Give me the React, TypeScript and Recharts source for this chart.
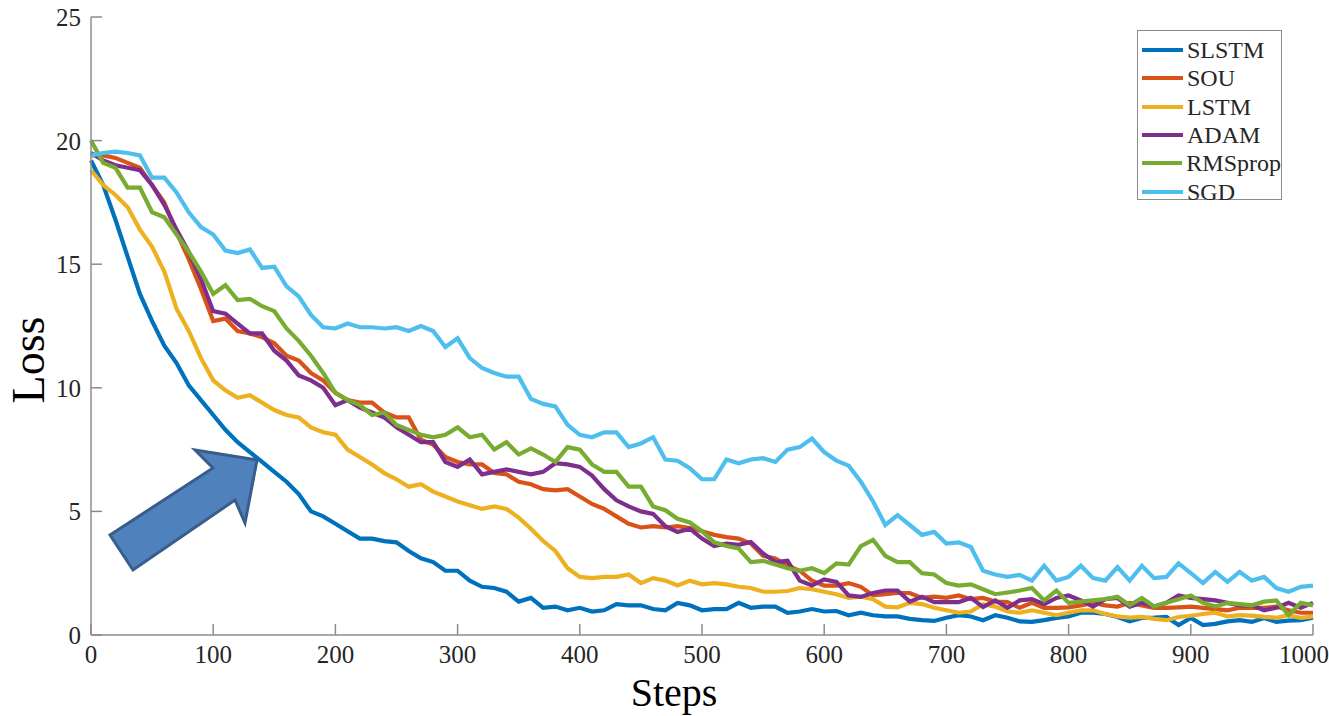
import { LineChart, Line, XAxis, YAxis } from 'recharts';

const steps = Array.from({ length: 101 }, (_, i) => i * 10);
const xTicks = [0, 100, 200, 300, 400, 500, 600, 700, 800, 900, 1000];
const yTicks = [0, 5, 10, 15, 20, 25];

const slstm = [19.2, 18.2, 16.8, 15.3, 13.8, 12.7, 11.7, 11.0, 10.1, 9.5,
  8.9, 8.3, 7.8, 7.4, 7.0, 6.6, 6.2, 5.7, 5.0, 4.8,
  4.5, 4.2, 3.9, 3.9, 3.8, 3.75, 3.4, 3.1, 2.95, 2.6,
  2.6, 2.2, 1.95, 1.9, 1.75, 1.35, 1.5, 1.1, 1.15, 1.0,
  1.1, 0.95, 1.0, 1.25, 1.2, 1.2, 1.05, 1.0, 1.3, 1.2,
  1.0, 1.05, 1.05, 1.3, 1.1, 1.15, 1.15, 0.9, 0.95, 1.05,
  0.95, 0.97, 0.8, 0.9, 0.8, 0.75, 0.75, 0.65, 0.6, 0.57,
  0.7, 0.8, 0.75, 0.6, 0.8, 0.7, 0.55, 0.53, 0.6, 0.69,
  0.75, 0.9, 0.9, 0.85, 0.73, 0.55, 0.69, 0.7, 0.73, 0.4,
  0.69, 0.4, 0.45, 0.55, 0.6, 0.53, 0.69, 0.53, 0.58, 0.6,
  0.7];

const sou = [19.4, 19.4, 19.3, 19.1, 18.9, 18.2, 17.5, 16.3, 15.2, 14.0,
  12.7, 12.8, 12.3, 12.2, 12.05, 11.8, 11.3, 11.1, 10.6, 10.3,
  9.8, 9.5, 9.4, 9.4, 9.0, 8.8, 8.8, 7.9, 7.7, 7.2,
  7.0, 6.9, 6.9, 6.55, 6.5, 6.2, 6.1, 5.9, 5.85, 5.9,
  5.6, 5.3, 5.1, 4.8, 4.5, 4.35, 4.4, 4.35, 4.4, 4.33,
  4.2, 4.05, 3.96, 3.9, 3.7, 3.2, 3.1, 2.8, 2.6, 2.2,
  2.0, 2.0, 2.1, 1.95, 1.6, 1.65, 1.7, 1.7, 1.5, 1.55,
  1.5, 1.6, 1.45, 1.5, 1.35, 1.33, 1.1, 1.3, 1.1, 1.1,
  1.12, 1.2, 1.3, 1.2, 1.15, 1.3, 1.2, 1.1, 1.1, 1.12,
  1.15, 1.1, 1.05, 1.0, 1.1, 1.1, 1.1, 1.15, 1.0, 0.9,
  0.9];

const lstm = [18.8, 18.2, 17.8, 17.3, 16.4, 15.7, 14.7, 13.2, 12.3, 11.2,
  10.3, 9.9, 9.6, 9.7, 9.4, 9.1, 8.9, 8.8, 8.4, 8.2,
  8.1, 7.5, 7.2, 6.9, 6.55, 6.3, 6.0, 6.1, 5.8, 5.6,
  5.4, 5.25, 5.1, 5.2, 5.1, 4.75, 4.3, 3.8, 3.4, 2.7,
  2.35, 2.3, 2.35, 2.35, 2.45, 2.1, 2.3, 2.2, 2.0, 2.2,
  2.05, 2.1, 2.05, 1.95, 1.9, 1.75, 1.75, 1.78, 1.9, 1.85,
  1.75, 1.65, 1.5, 1.55, 1.45, 1.15, 1.12, 1.3, 1.25, 1.1,
  1.0, 0.9, 0.95, 1.25, 1.15, 0.95, 0.9, 1.0, 0.9, 0.8,
  0.9, 1.0, 1.0, 0.85, 0.75, 0.7, 0.73, 0.65, 0.6, 0.73,
  0.78, 0.85, 0.9, 0.75, 0.8, 0.78, 0.73, 0.7, 0.8, 0.69,
  0.75];

const adam = [19.5, 19.2, 19.0, 18.9, 18.8, 18.2, 17.4, 16.4, 15.5, 14.4,
  13.1, 13.0, 12.6, 12.2, 12.2, 11.5, 11.1, 10.5, 10.3, 10.0,
  9.3, 9.5, 9.2, 9.0, 8.8, 8.4, 8.1, 7.8, 7.8, 7.0,
  6.8, 7.1, 6.5, 6.6, 6.7, 6.6, 6.5, 6.6, 6.95, 6.9,
  6.8, 6.45, 5.9, 5.45, 5.2, 5.0, 4.9, 4.4, 4.17, 4.3,
  3.9, 3.6, 3.7, 3.65, 3.76, 3.3, 2.95, 3.0, 2.2, 2.0,
  2.25, 2.15, 1.6, 1.54, 1.7, 1.8, 1.8, 1.35, 1.55, 1.33,
  1.33, 1.33, 1.5, 1.13, 1.4, 1.1, 1.4, 1.45, 1.25, 1.5,
  1.6, 1.4, 1.15, 1.45, 1.5, 1.15, 1.3, 1.15, 1.3, 1.6,
  1.5, 1.45, 1.4, 1.3, 1.2, 1.2, 1.0, 1.1, 1.3, 1.1,
  1.3];

const rmsprop = [20.0, 19.1, 18.9, 18.1, 18.1, 17.1, 16.9, 16.2, 15.5, 14.7,
  13.8, 14.15, 13.55, 13.6, 13.3, 13.1, 12.4, 11.9, 11.3, 10.6,
  9.8, 9.5, 9.3, 8.9, 9.0, 8.5, 8.3, 8.1, 8.0, 8.1,
  8.4, 8.0, 8.1, 7.5, 7.8, 7.3, 7.55, 7.3, 7.0, 7.6,
  7.5, 6.9, 6.6, 6.6, 6.0, 6.0, 5.2, 5.05, 4.7, 4.55,
  4.2, 3.75, 3.6, 3.5, 2.95, 3.0, 2.85, 2.7, 2.6, 2.7,
  2.5, 2.9, 2.85, 3.6, 3.85, 3.2, 2.95, 2.95, 2.5, 2.45,
  2.1, 2.0, 2.05, 1.85, 1.65, 1.72, 1.8, 1.9, 1.4, 1.8,
  1.3, 1.35, 1.4, 1.45, 1.55, 1.2, 1.5, 1.15, 1.3, 1.45,
  1.6, 1.3, 1.15, 1.3, 1.25, 1.2, 1.35, 1.4, 0.8, 1.3,
  1.2];

const sgd = [19.4, 19.5, 19.55, 19.5, 19.4, 18.5, 18.5, 17.9, 17.1, 16.5,
  16.2, 15.55, 15.45, 15.6, 14.85, 14.9, 14.1, 13.7, 12.95, 12.45,
  12.4, 12.6, 12.45, 12.45, 12.4, 12.45, 12.3, 12.5, 12.3, 11.65,
  12.0, 11.2, 10.8, 10.6, 10.45, 10.45, 9.55, 9.35, 9.25, 8.5,
  8.1, 8.0, 8.2, 8.2, 7.6, 7.75, 8.0, 7.1, 7.05, 6.75,
  6.3, 6.3, 7.1, 6.95, 7.1, 7.15, 7.0, 7.5, 7.6, 7.95,
  7.4, 7.05, 6.85, 6.2, 5.4, 4.45, 4.85, 4.45, 4.05, 4.17,
  3.7, 3.75, 3.56, 2.6, 2.45, 2.35, 2.43, 2.2, 2.8, 2.2,
  2.35, 2.8, 2.3, 2.2, 2.75, 2.2, 2.8, 2.3, 2.35, 2.9,
  2.5, 2.1, 2.55, 2.15, 2.55, 2.2, 2.35, 1.9, 1.75, 1.95,
  2.0];

const series = [
  { key: 'SLSTM', values: slstm, color: '#0072BD' },
  { key: 'SOU', values: sou, color: '#D95319' },
  { key: 'LSTM', values: lstm, color: '#EDB120' },
  { key: 'ADAM', values: adam, color: '#7E2F8E' },
  { key: 'RMSprop', values: rmsprop, color: '#77AC30' },
  { key: 'SGD', values: sgd, color: '#4DBEEE' },
];

const data = steps.map((step, i) => {
  const row: Record<string, number> = { step };
  series.forEach((s) => { row[s.key] = s.values[i]; });
  return row;
});

const axisColor = '#8c8c8c';
const textColor = '#262626';
const serif = '"Liberation Serif", "Times New Roman", serif';
const TICK = 11;

function BottomTick({ x, y, payload }: any) {
  // the last label sits at the page edge; nudge it so it stays on the page
  const dx = payload.value === 1000 ? -9 : 0;
  return (
    <g>
      <line x1={x} y1={y} x2={x} y2={y - TICK} stroke={axisColor} strokeWidth={1.5} />
      <text x={x + dx} y={y + 28} textAnchor="middle" fontFamily={serif} fontSize={25} fill={textColor}>{payload.value}</text>
    </g>
  );
}

function TopTick({ x, y }: any) {
  return <line x1={x} y1={y} x2={x} y2={y + TICK} stroke={axisColor} strokeWidth={1.5} />;
}

function LeftTick({ x, y, payload }: any) {
  return (
    <g>
      <line x1={x} y1={y} x2={x + TICK} y2={y} stroke={axisColor} strokeWidth={1.5} />
      <text x={x - 10} y={y + 9} textAnchor="end" fontFamily={serif} fontSize={25} fill={textColor}>{payload.value}</text>
    </g>
  );
}

function RightTick({ x, y }: any) {
  return <line x1={x} y1={y} x2={x - TICK} y2={y} stroke={axisColor} strokeWidth={1.5} />;
}

export default function App() {
  return (
    <div style={{ position: 'absolute', left: 0, top: 0, width: 1329, height: 716, background: '#fff' }}>
      <LineChart width={1329} height={716} data={data} margin={{ top: 17, right: 16, bottom: 41, left: 31 }}>
        <XAxis dataKey="step" type="number" domain={[0, 1000]} ticks={xTicks} height={40}
          tickSize={0} tickMargin={0} tickLine={false} axisLine={{ stroke: axisColor, strokeWidth: 1.5 }}
          tick={<BottomTick />} interval={0} />
        <XAxis xAxisId="top" orientation="top" dataKey="step" type="number" domain={[0, 1000]} ticks={xTicks} height={0}
          tickSize={0} tickMargin={0} tickLine={false} axisLine={{ stroke: axisColor, strokeWidth: 1.5 }}
          tick={<TopTick />} interval={0} />
        <YAxis type="number" domain={[0, 25]} ticks={yTicks} width={60}
          tickSize={0} tickMargin={0} tickLine={false} axisLine={{ stroke: axisColor, strokeWidth: 1.5 }}
          tick={<LeftTick />} interval={0} />
        <YAxis yAxisId="right" orientation="right" type="number" domain={[0, 25]} ticks={yTicks} width={0}
          tickSize={0} tickMargin={0} tickLine={false} axisLine={{ stroke: axisColor, strokeWidth: 1.5 }}
          tick={<RightTick />} interval={0} />
        {series.map((s) => (
          <Line key={s.key} type="linear" dataKey={s.key} stroke={s.color} strokeWidth={4.2}
            dot={false} activeDot={false} isAnimationActive={false} />
        ))}
      </LineChart>

      <svg width={1329} height={716} style={{ position: 'absolute', left: 0, top: 0, pointerEvents: 'none' }}>
        <text x={0} y={0} transform="translate(44 360) rotate(-90)" textAnchor="middle"
          fontFamily={serif} fontSize={46} fill="#000">Loss</text>
        <text x={674} y={706} textAnchor="middle" fontFamily={serif} fontSize={40} fill="#000">Steps</text>
        <polygon points="110,535 213,468 195,450 257,460 245,523 235,500 133,570"
          fill="#4F81BD" stroke="#385D8A" strokeWidth={3} strokeLinejoin="miter" />
      </svg>

      <div style={{
        position: 'absolute', left: 1137, top: 30, width: 145, height: 170, background: '#fff',
        border: `1.5px solid ${axisColor}`, boxSizing: 'border-box', padding: '5px 0 0 4px',
      }}>
        {series.map((s) => (
          <div key={s.key} style={{ display: 'flex', alignItems: 'center', height: 28.3 }}>
            <div style={{ width: 41, height: 4, background: s.color, marginRight: 4 }} />
            <span style={{ fontFamily: serif, fontSize: 24, color: textColor, lineHeight: '28px' }}>{s.key}</span>
          </div>
        ))}
      </div>
    </div>
  );
}
